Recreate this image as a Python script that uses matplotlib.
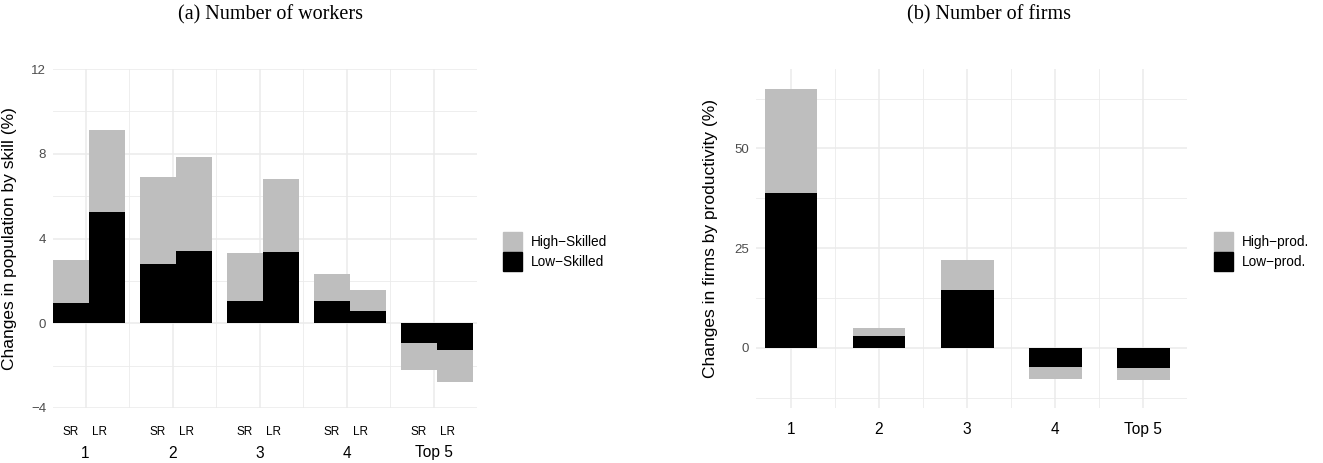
import matplotlib
matplotlib.use("Agg")
import matplotlib.pyplot as plt
from matplotlib.patches import Patch
from matplotlib.transforms import blended_transform_factory
import numpy as np

# ---- data ----
groups = ["1", "2", "3", "4", "Top 5"]
horizons = ["SR", "LR"]
# Panel (a): workers, % change (stacked: low-skilled then high-skilled)
low_sr = [0.96, 2.81, 1.07, 1.07, -0.93]
high_sr = [2.02, 4.08, 2.24, 1.25, -1.30]
low_lr = [5.24, 3.41, 3.36, 0.58, -1.26]
high_lr = [3.86, 4.42, 3.44, 0.99, -1.50]
# Panel (b): firms, % change
low_prod = [38.9, 3.0, 14.4, -4.8, -5.0]
high_prod = [26.1, 2.0, 7.7, -3.0, -3.0]

GREY = "#BEBEBE"
BLACK = "#000000"
GRID = "#EBEBEB"
SANS = ["Liberation Sans", "DejaVu Sans"]
SERIF = ["Liberation Serif", "DejaVu Serif"]

plt.rcParams["font.family"] = SANS

W, H = 1323, 463
fig = plt.figure(figsize=(W / 100, H / 100), dpi=100)


def px_axes(x0, x1, y0, y1):
    return fig.add_axes([x0 / W, 1 - y1 / H, (x1 - x0) / W, (y1 - y0) / H])


def style(ax):
    for s in ax.spines.values():
        s.set_visible(False)
    ax.grid(True, which="major", color=GRID, lw=1.1)
    ax.grid(True, which="minor", color=GRID, lw=0.6)
    ax.set_axisbelow(True)
    ax.tick_params(which="both", length=0)
    ax.tick_params(axis="y", labelsize=9.5, labelcolor="#4D4D4D", pad=5)


def stacked(ax, xs, low, high, width):
    low = np.array(low)
    high = np.array(high)
    ax.bar(xs, low, width=width, color=BLACK, lw=0)
    ax.bar(xs, high, bottom=low, width=width, color=GREY, lw=0)


def legend(ax, labels, x0):
    ax.legend(handles=[Patch(color=GREY, label=labels[0]),
                       Patch(color=BLACK, label=labels[1])],
              loc="upper left", bbox_to_anchor=(x0 / W, 1 - 232 / H),
              bbox_transform=fig.transFigure, frameon=False, fontsize=9.8,
              handlelength=1.4, handleheight=1.77, handletextpad=0.7,
              labelspacing=0.05, borderpad=0, borderaxespad=0)


# ---- panel (a) ----
ax1 = px_axes(53, 477, 69, 408)
style(ax1)
x = np.arange(1, len(groups) + 1)
bw = 0.41
sr_x = x - 0.165
lr_x = x + 0.245

stacked(ax1, sr_x, low_sr, high_sr, bw)
stacked(ax1, lr_x, low_lr, high_lr, bw)
ax1.set_xlim(0.626, 5.47)
ax1.set_ylim(-4, 12)
ax1.set_yticks([-4, 0, 4, 8, 12])
ax1.set_yticks([-2, 2, 6, 10], minor=True)
ax1.set_yticklabels(["\u22124", "0", "4", "8", "12"])
ax1.set_xticks(x)
ax1.set_xticks(x + 0.5, minor=True)
ax1.set_xticklabels(groups, fontsize=11.2, color="black")
ax1.tick_params(axis="x", pad=27)
tr = blended_transform_factory(ax1.transData, ax1.transAxes)
for g in x:
    ax1.text(g - 0.17, -0.07, horizons[0], transform=tr, ha="center", va="center", fontsize=8.5)
    ax1.text(g + 0.16, -0.07, horizons[1], transform=tr, ha="center", va="center", fontsize=8.5)
ax1.set_ylabel("Changes in population by skill (%)", fontsize=12.5)
ax1.yaxis.set_label_coords((17 - 53) / 424, 0.5)
legend(ax1, ["High\u2212Skilled", "Low\u2212Skilled"], 502.7)
fig.text(271 / W, 1 - 15 / H, "(a) Number of workers", family=SERIF,
         fontsize=14.5, ha="center", va="center")

# ---- panel (b) ----
ax2 = px_axes(755.7, 1187.3, 69, 408)
style(ax2)
stacked(ax2, x, low_prod, high_prod, 0.6)
ax2.set_xlim(0.6, 5.4)
ax2.set_ylim(-15.1, 69.9)
ax2.set_yticks([0, 25, 50])
ax2.set_yticks([-12.5, 12.5, 37.5, 62.5], minor=True)
ax2.set_xticks(x)
ax2.set_xticks(x + 0.5, minor=True)
ax2.set_xticklabels(groups, fontsize=11.2, color="black")
ax2.tick_params(axis="x", pad=10)
ax2.set_ylabel("Changes in firms by productivity (%)", fontsize=12.5)
ax2.yaxis.set_label_coords((718 - 755.7) / 431.6, 0.5)
legend(ax2, ["High\u2212prod.", "Low\u2212prod."], 1213.5)
fig.text(989 / W, 1 - 15 / H, "(b) Number of firms", family=SERIF,
         fontsize=14.5, ha="center", va="center")

fig.savefig("out.png", dpi=100)
